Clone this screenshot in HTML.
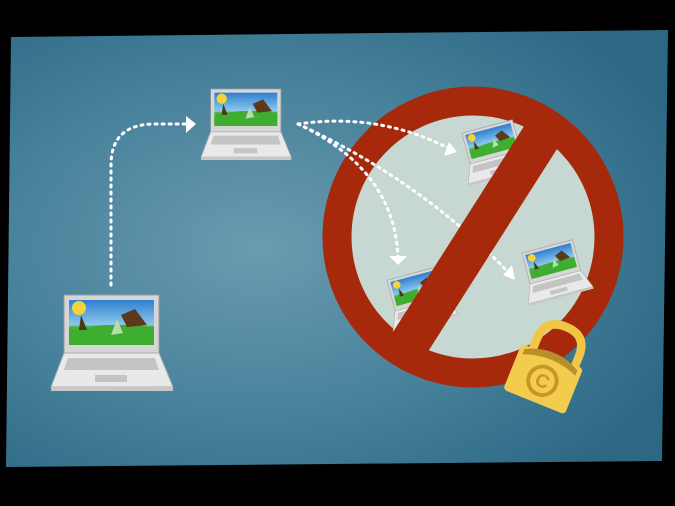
<!DOCTYPE html>
<html><head><style>html,body{margin:0;padding:0;background:#000;}svg{display:block}</style></head><body>
<svg width="675" height="506" viewBox="0 0 675 506" xmlns="http://www.w3.org/2000/svg">
<defs>
<radialGradient id="bg" cx="0.38" cy="0.5" r="0.7">
<stop offset="0" stop-color="#6b9bb0"/><stop offset="0.6" stop-color="#447f99"/><stop offset="1" stop-color="#2c6884"/>
</radialGradient>
<linearGradient id="sky" x1="0" y1="0" x2="0" y2="1"><stop offset="0" stop-color="#2f7fd0"/><stop offset="0.55" stop-color="#8cc8ea"/><stop offset="0.6" stop-color="#4cb33a"/><stop offset="1" stop-color="#2e9a2a"/></linearGradient>
<g id="lap">
<rect x="13" y="0" width="95" height="58" fill="#d6d6d6" stroke="#9a9a9a" stroke-width="1"/>
<rect x="18" y="5" width="85" height="45" fill="url(#sky)"/>
<circle cx="28" cy="13" r="7" fill="#f2d33a"/>
<path d="M18 36 Q50 26 103 32 L103 50 L18 50Z" fill="#3fae30"/>
<path d="M70 20 L84 14 L96 30 L76 32Z" fill="#5a3a1a"/>
<path d="M60 40 L66 24 L72 38Z" fill="#b8dcb0"/>
<path d="M28 35 L30 20 L36 35Z" fill="#4a3a10"/>
<polygon points="13,58 108,58 122,92 0,92" fill="#e9e9e9" stroke="#aaa" stroke-width="1"/>
<rect x="0" y="92" width="122" height="4" fill="#c8c8c8"/>
<polygon points="17,63 104,63 108,75 13,75" fill="#c4c4c4"/>
<rect x="44" y="80" width="32" height="7" fill="#c4c4c4"/>
</g>
</defs>
<rect width="675" height="506" fill="#000"/>
<polygon points="11,37 668,30 662,461 6,467" fill="url(#bg)"/>
<circle cx="473" cy="237" r="136" fill="#c7d7d1" stroke="#a6290b" stroke-width="29"/>
<g fill="none" stroke="#fff" stroke-width="3" stroke-dasharray="2 5" stroke-linecap="round">
<path d="M111 285 L111 165 Q111 124 155 124 L185 124"/>
<path d="M298 124 Q380 112 452 150"/>
<path d="M298 124 Q395 170 398 258"/>
<path d="M298 124 Q420 180 508 272"/>
</g>
<polygon points="186,116 196,124 186,133" fill="#fff"/>
<polygon points="444,156 457,152 449,142" fill="#fff"/>
<polygon points="389,256 407,256 398,265" fill="#fff"/>
<polygon points="503,275 515,280 512,265" fill="#fff"/>
<use href="#lap" transform="translate(51,295)"/>
<use href="#lap" transform="translate(201,89) scale(0.74)"/>
<use href="#lap" transform="translate(455,135) rotate(-15) scale(0.55)"/>
<use href="#lap" transform="translate(380,282) rotate(-15) scale(0.55)"/>
<use href="#lap" transform="translate(515,255) rotate(-15) scale(0.55)"/>
<line x1="553" y1="118" x2="404" y2="352" stroke="#a6290b" stroke-width="40"/>
<g transform="translate(546,372) rotate(22) scale(0.95)">
<path d="M-22 -12 L-22 -28 Q-22 -52 2 -52 Q26 -52 26 -28 L26 -12" fill="none" stroke="#f0c644" stroke-width="9"/>
<rect x="-35" y="-18" width="70" height="52" rx="4" fill="#f3cc4e"/>
<path d="M-30 -14 Q0 -30 30 -14 L30 -8 Q0 -20 -30 -8Z" fill="#b8902a"/>
<circle cx="0" cy="10" r="15" fill="none" stroke="#c8952a" stroke-width="4"/>
<text x="0" y="17" font-family="Liberation Sans, sans-serif" font-size="20" font-weight="bold" fill="#c8952a" text-anchor="middle">C</text>
</g>
</svg>
</body></html>
